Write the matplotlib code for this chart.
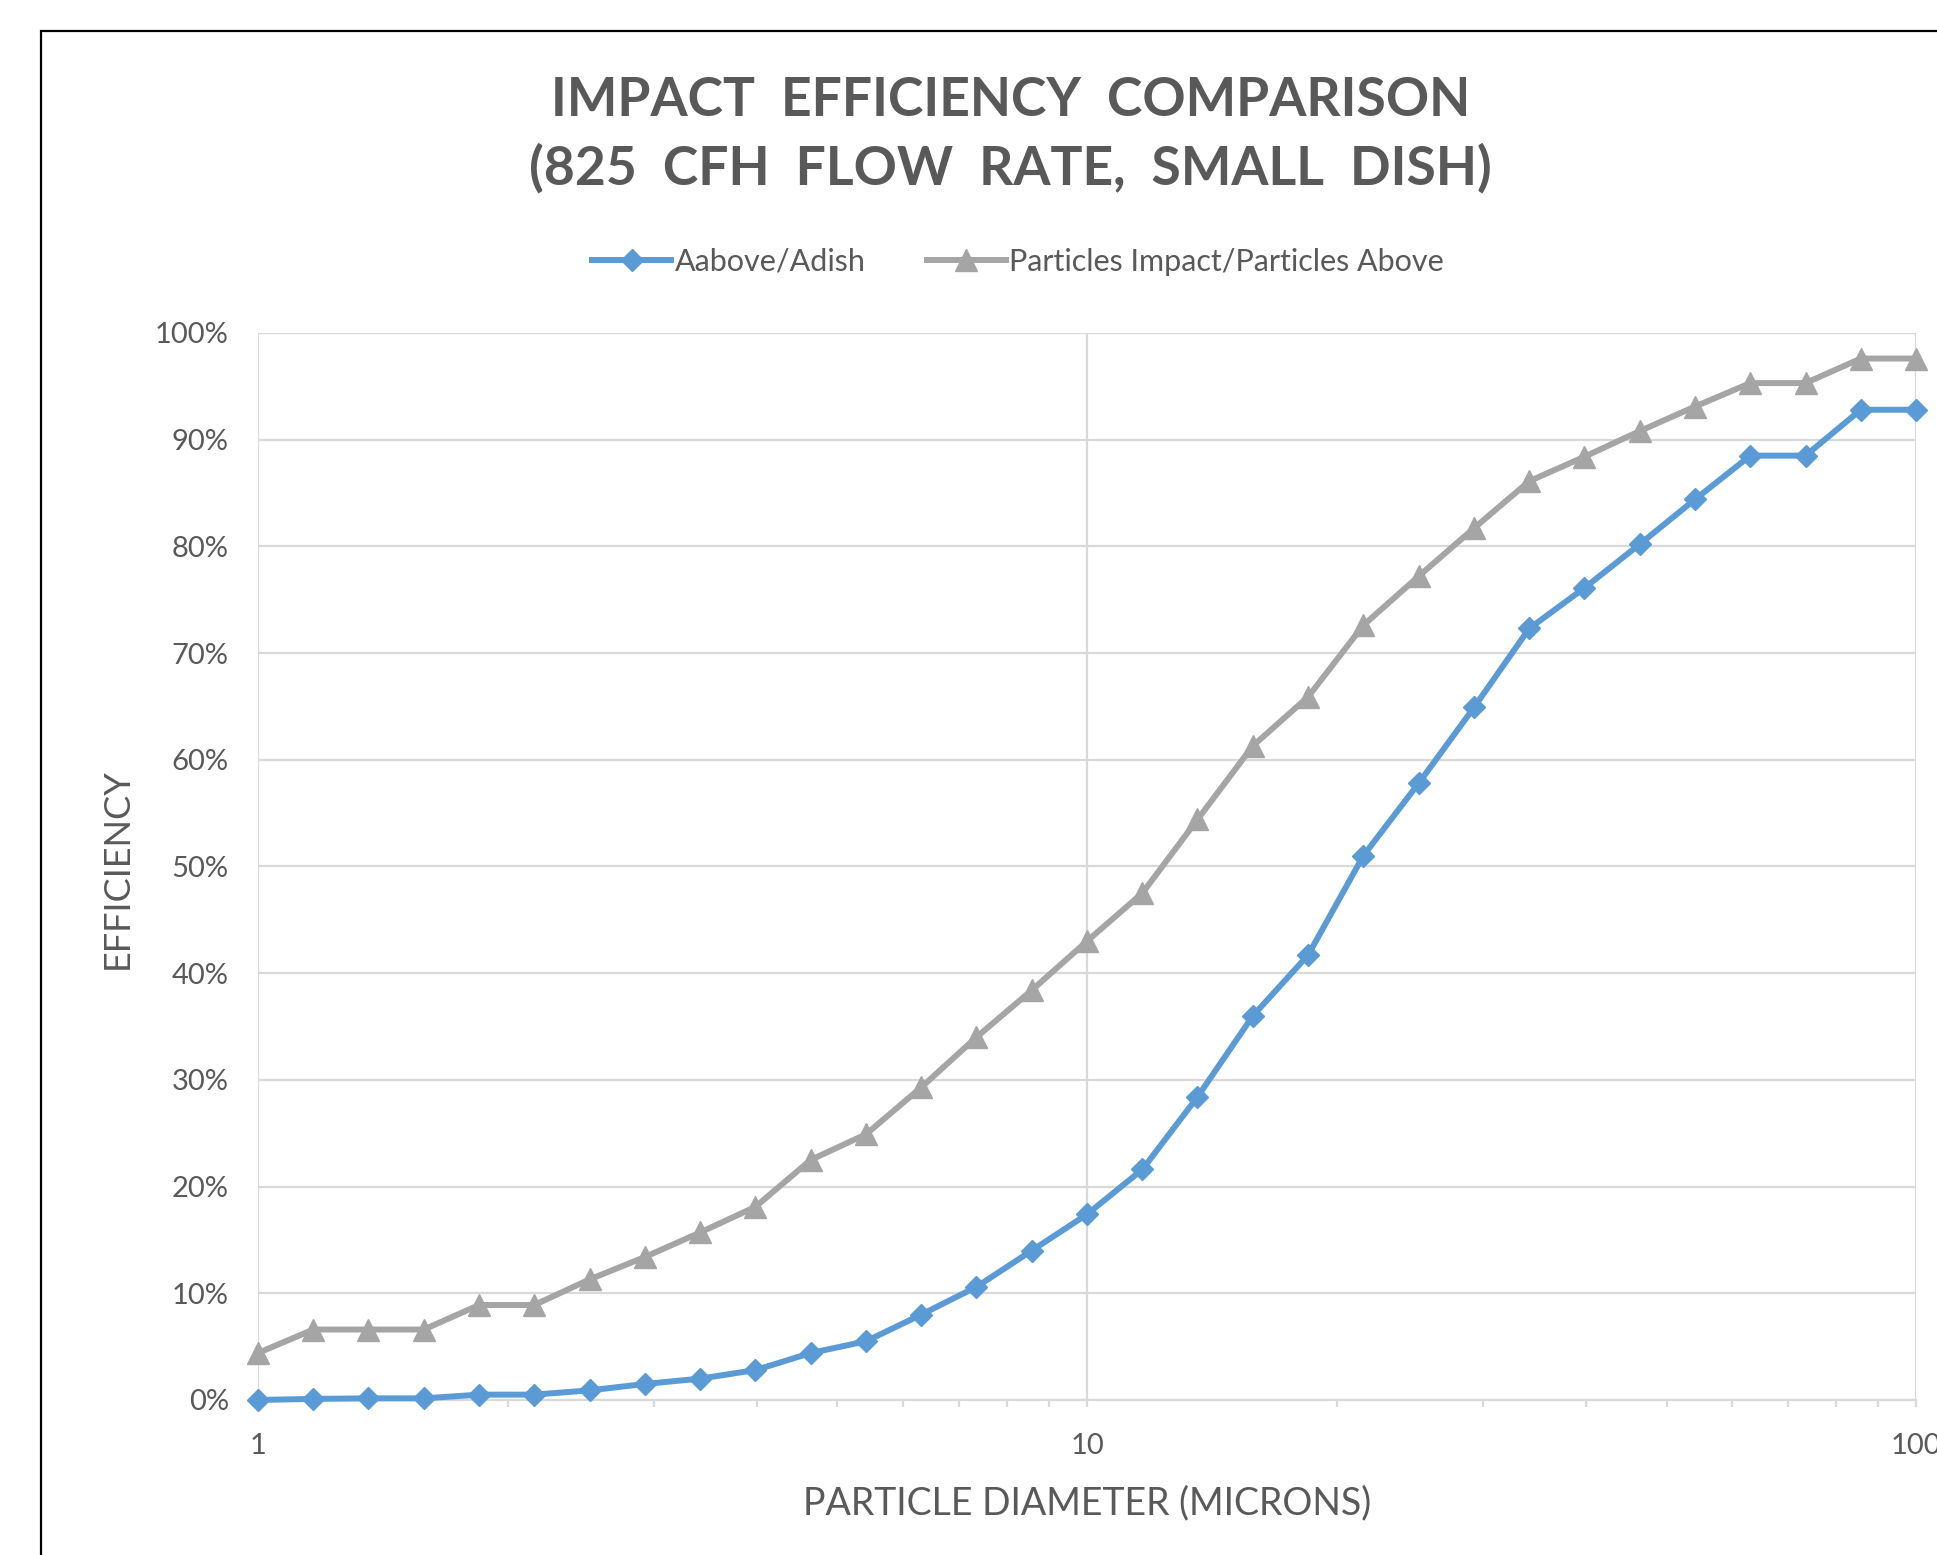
import matplotlib
matplotlib.use("Agg")
import matplotlib.pyplot as plt
from matplotlib.patches import Rectangle
from matplotlib.ticker import FixedLocator, NullFormatter

plt.rcParams['font.family'] = ['Lato', 'DejaVu Sans']

# particle diameter (microns)
diameter = [1.0, 1.166, 1.359, 1.585, 1.848, 2.154, 2.512, 2.929, 3.415, 3.981,
            4.642, 5.412, 6.310, 7.356, 8.577, 10.0, 11.66, 13.59, 15.85, 18.48,
            21.54, 25.12, 29.29, 34.15, 39.81, 46.42, 54.12, 63.10, 73.56, 85.77, 100.0]

# efficiency in %
aabove_adish = [0.0, 0.1, 0.15, 0.15, 0.5, 0.5, 0.9, 1.5, 2.0, 2.8,
                4.4, 5.5, 8.0, 10.6, 14.0, 17.4, 21.6, 28.4, 36.0, 41.7,
                51.0, 57.8, 64.9, 72.3, 76.1, 80.2, 84.4, 88.5, 88.5, 92.8, 92.8]
particles_impact = [4.4, 6.6, 6.6, 6.6, 8.9, 8.9, 11.3, 13.4, 15.7, 18.1,
                    22.5, 24.9, 29.3, 34.0, 38.4, 43.0, 47.5, 54.4, 61.3, 65.9,
                    72.6, 77.2, 81.7, 86.1, 88.4, 90.8, 93.1, 95.3, 95.3, 97.6, 97.6]

y_ticks = [0, 10, 20, 30, 40, 50, 60, 70, 80, 90, 100]
y_labels = [str(v) + '%' for v in y_ticks]
x_ticks = [1, 10, 100]
x_labels = ['1', '10', '100']

txt = '#595959'
grid = '#D9D9D9'

fig = plt.figure(figsize=(19.37, 15.55), dpi=100)
ax = fig.add_axes([0.1332, 0.0997, 0.856, 0.6862])

# outer frame of the chart (cut off at right / bottom)
fig.patches.append(Rectangle((0.0212, -0.05), 1.2, 1.03, transform=fig.transFigure,
                             fill=False, edgecolor='black', linewidth=1.6))

ax.plot(diameter, aabove_adish, color='#5B9BD5', linewidth=4.3, marker='D',
        markersize=11.5, label='Aabove/Adish', zorder=4, clip_on=False)
ax.plot(diameter, particles_impact, color='#A5A5A5', linewidth=4.3, marker='^',
        markersize=15.5, label='Particles Impact/Particles Above', zorder=3, clip_on=False)

ax.set_xscale('log')
ax.set_xlim(1, 100)
ax.set_ylim(0, 100)

ax.set_yticks(y_ticks)
ax.set_yticklabels(y_labels)
ax.xaxis.set_major_locator(FixedLocator(x_ticks))
ax.set_xticklabels(x_labels)
minor = [2, 3, 4, 5, 6, 7, 8, 9, 20, 30, 40, 50, 60, 70, 80, 90]
ax.xaxis.set_minor_locator(FixedLocator(minor))
ax.xaxis.set_minor_formatter(NullFormatter())

ax.grid(True, which='major', axis='both', color=grid, linewidth=1.6, zorder=0)
ax.set_axisbelow(True)
for s in ['top', 'right', 'left']:
    ax.spines[s].set_visible(False)
ax.spines['bottom'].set_color(grid)
ax.spines['bottom'].set_linewidth(1.6)

ax.tick_params(axis='y', length=0, pad=21, labelsize=21, labelcolor=txt)
ax.tick_params(axis='x', which='both', direction='out', color=grid, width=1.6,
               length=5, pad=19, labelsize=21, labelcolor=txt)

fig.text(0.5217, 0.9135, 'IMPACT  EFFICIENCY  COMPARISON\n(825  CFH  FLOW  RATE,  SMALL  DISH)',
         ha='center', va='center', fontsize=38.5, fontweight='bold', color=txt,
         linespacing=1.42)

fig.legend(loc='center', bbox_to_anchor=(0.5255, 0.8316), ncol=2, frameon=False,
           fontsize=22, labelcolor=txt, handlelength=2.6, handletextpad=0.1,
           columnspacing=2.0)

fig.text(0.5613, 0.0334, 'PARTICLE DIAMETER (MICRONS)', ha='center', va='center',
         fontsize=27, color=txt)
fig.text(0.0606, 0.4416, 'EFFICIENCY', ha='center', va='center', rotation=90,
         fontsize=26, color=txt)

fig.savefig('out.png', dpi=100, facecolor='white')
